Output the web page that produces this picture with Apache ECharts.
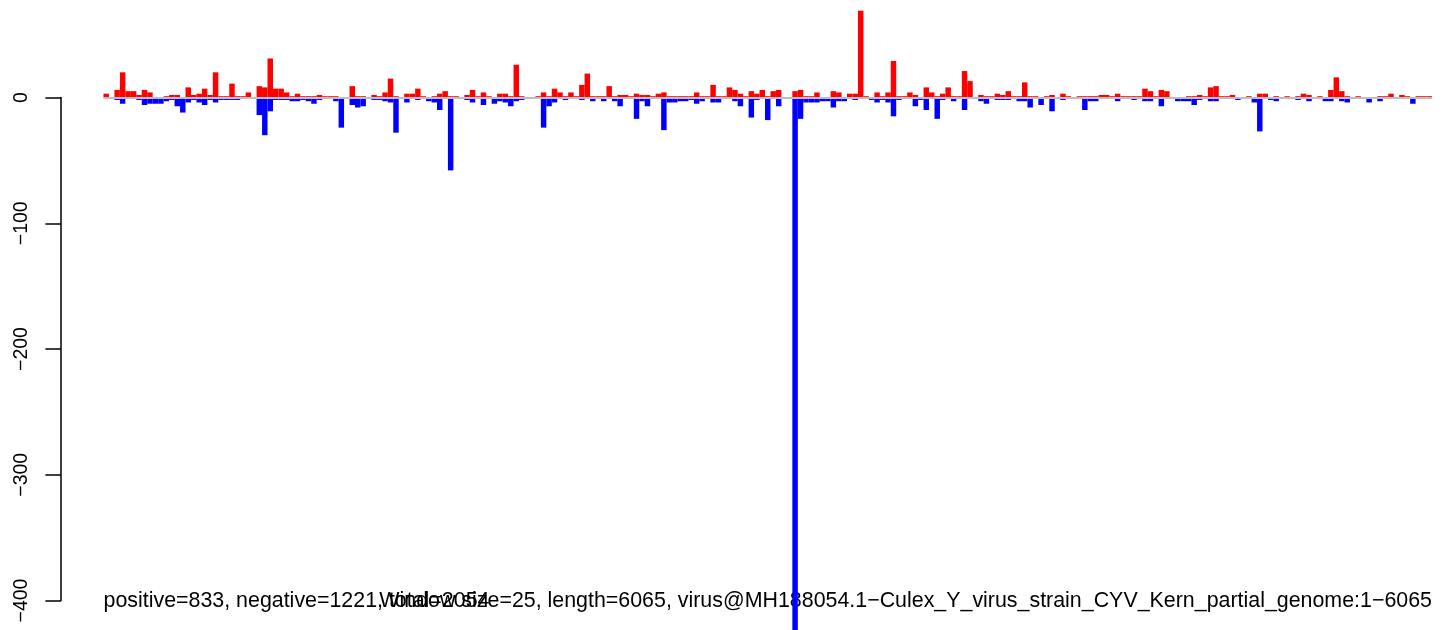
<!DOCTYPE html>
<html>
<head>
<meta charset="utf-8">
<script src="https://cdn.jsdelivr.net/npm/echarts@6/dist/echarts.min.js"></script>
<style>
html,body{margin:0;padding:0;background:#fff;}
#chart{width:1444px;height:630px;}
</style>
</head>
<body>
<div id="chart"></div>
<script>
// ---- data ----
const windowSize = 25;
const seqLength = 6065;
const positive = [
 3,0,6,20,5,5,2,6,4,0,
 0,1,2,2,0,8,2,3,7,2,
 20,1,1,11,1,1,4,0,9,8,
 31,7,7,4,1,3,1,1,1,2,
 1,1,1,0,0,9,1,1,0,2,
 1,4,15,1,0,3,3,7,1,0,
 1,3,5,1,1,0,2,6,1,4,
 1,0,3,3,1,26,1,0,0,1,
 4,1,7,4,1,4,1,10,19,1,
 1,1,9,1,2,2,1,3,2,2,
 1,3,4,1,1,1,1,1,4,1,
 1,10,1,1,8,6,3,1,5,3,
 6,1,5,6,0,0,5,6,1,1,
 4,0,0,5,4,0,3,3,69,1,
 0,4,1,4,29,1,1,4,2,0,
 8,4,1,3,8,1,1,21,13,0,
 2,1,1,3,2,5,1,1,12,1,
 1,0,1,2,0,3,1,0,1,1,
 1,1,2,2,1,3,1,1,1,1,
 7,5,1,6,5,0,0,0,1,1,
 2,1,8,9,1,1,2,0,0,1,
 0,3,3,0,1,0,1,0,1,3,
 2,0,1,0,6,16,5,1,0,1,
 0,0,0,1,1,3,0,2,1,0,
 1,1,1
];
const negative = [
 0,0,2,5,1,1,2,6,5,5,
 5,3,2,7,12,4,2,4,6,2,
 4,2,2,2,2,1,1,1,14,30,
 11,2,2,2,3,3,2,3,5,2,
 1,1,3,24,0,6,8,7,0,2,
 2,3,4,28,1,4,1,2,0,3,
 4,10,1,58,1,0,2,4,1,6,
 1,5,3,4,7,3,2,1,1,1,
 24,7,4,1,2,1,1,2,1,3,
 1,3,1,3,7,1,1,17,3,7,
 1,1,26,4,4,3,3,2,5,3,
 1,4,4,1,1,3,7,1,16,2,
 1,18,1,7,1,0,430,17,4,4,
 4,3,3,8,3,3,0,2,1,0,
 2,4,2,4,15,2,1,1,7,2,
 10,1,17,2,1,3,1,10,0,0,
 3,5,0,2,2,2,0,3,3,8,
 1,6,1,11,1,2,1,0,0,10,
 3,3,1,1,1,3,1,1,2,1,
 3,3,1,7,1,0,3,3,3,6,
 2,1,3,3,1,1,0,2,0,0,
 4,27,0,2,3,0,1,0,2,0,
 3,0,0,3,3,0,3,4,0,1,
 0,4,0,3,1,1,0,1,0,5,
 0,1,1
];
const yTicks = [0, -100, -200, -300, -400];
const leftText = 'positive=833, negative=1221, total=2054';
const rightText = 'Window size=25, length=6065, virus@MH188054.1\u2212Culex_Y_virus_strain_CYV_Kern_partial_genome:1\u22126065';

// ---- chart ----
const categories = positive.map((_, i) => String(i * windowSize + 1));
const FONT = "'Liberation Sans', Arial, Helvetica, sans-serif";
const chart = echarts.init(document.getElementById('chart'), null, {renderer: 'canvas'});
const titleStyle = {fontFamily: FONT, fontSize: 21.4, fontWeight: 'normal', color: '#000', lineHeight: 22};
const option = {
  animation: false,
  backgroundColor: '#ffffff',
  title: [
    {text: leftText, left: 103.5, top: 590, padding: 0, z: 0, zlevel: 0, textStyle: titleStyle},
    {text: rightText, right: 12, top: 590, padding: 0, z: 0, zlevel: 0, textStyle: titleStyle}
  ],
  grid: [
    {left: 103.5, right: 12, top: 0, bottom: 0},
    {left: 61, width: 10, top: 97.5, bottom: 29.5}
  ],
  xAxis: [
    {type: 'category', gridIndex: 0, data: categories, show: false, boundaryGap: true},
    {type: 'value', gridIndex: 1, show: false, min: 0, max: 1}
  ],
  yAxis: [
    {type: 'value', gridIndex: 0, show: false, min: -423.5, max: 77.5, splitLine: {show: false}},
    {type: 'value', gridIndex: 1, position: 'left',
     min: yTicks[yTicks.length - 1], max: yTicks[0], interval: 100,
     axisLine: {show: true, lineStyle: {color: '#000', width: 1.5}},
     axisTick: {show: true, inside: false, length: 15.6, lineStyle: {color: '#000', width: 1.5}},
     axisLabel: {show: true, rotate: 90, margin: 29, fontSize: 19.5, fontFamily: FONT, color: '#000',
       formatter: v => String(v).replace('-', '\u2212')},
     splitLine: {show: false}}
  ],
  series: [
    {type: 'bar', name: 'positive', xAxisIndex: 0, yAxisIndex: 0, data: positive,
     barWidth: '100%', barGap: '-100%', silent: true, z: 2,
     itemStyle: {color: '#ff0000'}},
    {type: 'bar', name: 'negative', xAxisIndex: 0, yAxisIndex: 0, data: negative.map(v => -v),
     barWidth: '100%', barGap: '-100%', silent: true, z: 2,
     itemStyle: {color: '#0000ff'},
     markLine: {silent: true, symbol: 'none', z: 10, label: {show: false}, animation: false,
       lineStyle: {color: '#bebebe', width: 2, type: 'solid', opacity: 1},
       emphasis: {disabled: true},
       data: [{yAxis: 0}]}}
  ]
};
chart.setOption(option);
</script>
</body>
</html>
